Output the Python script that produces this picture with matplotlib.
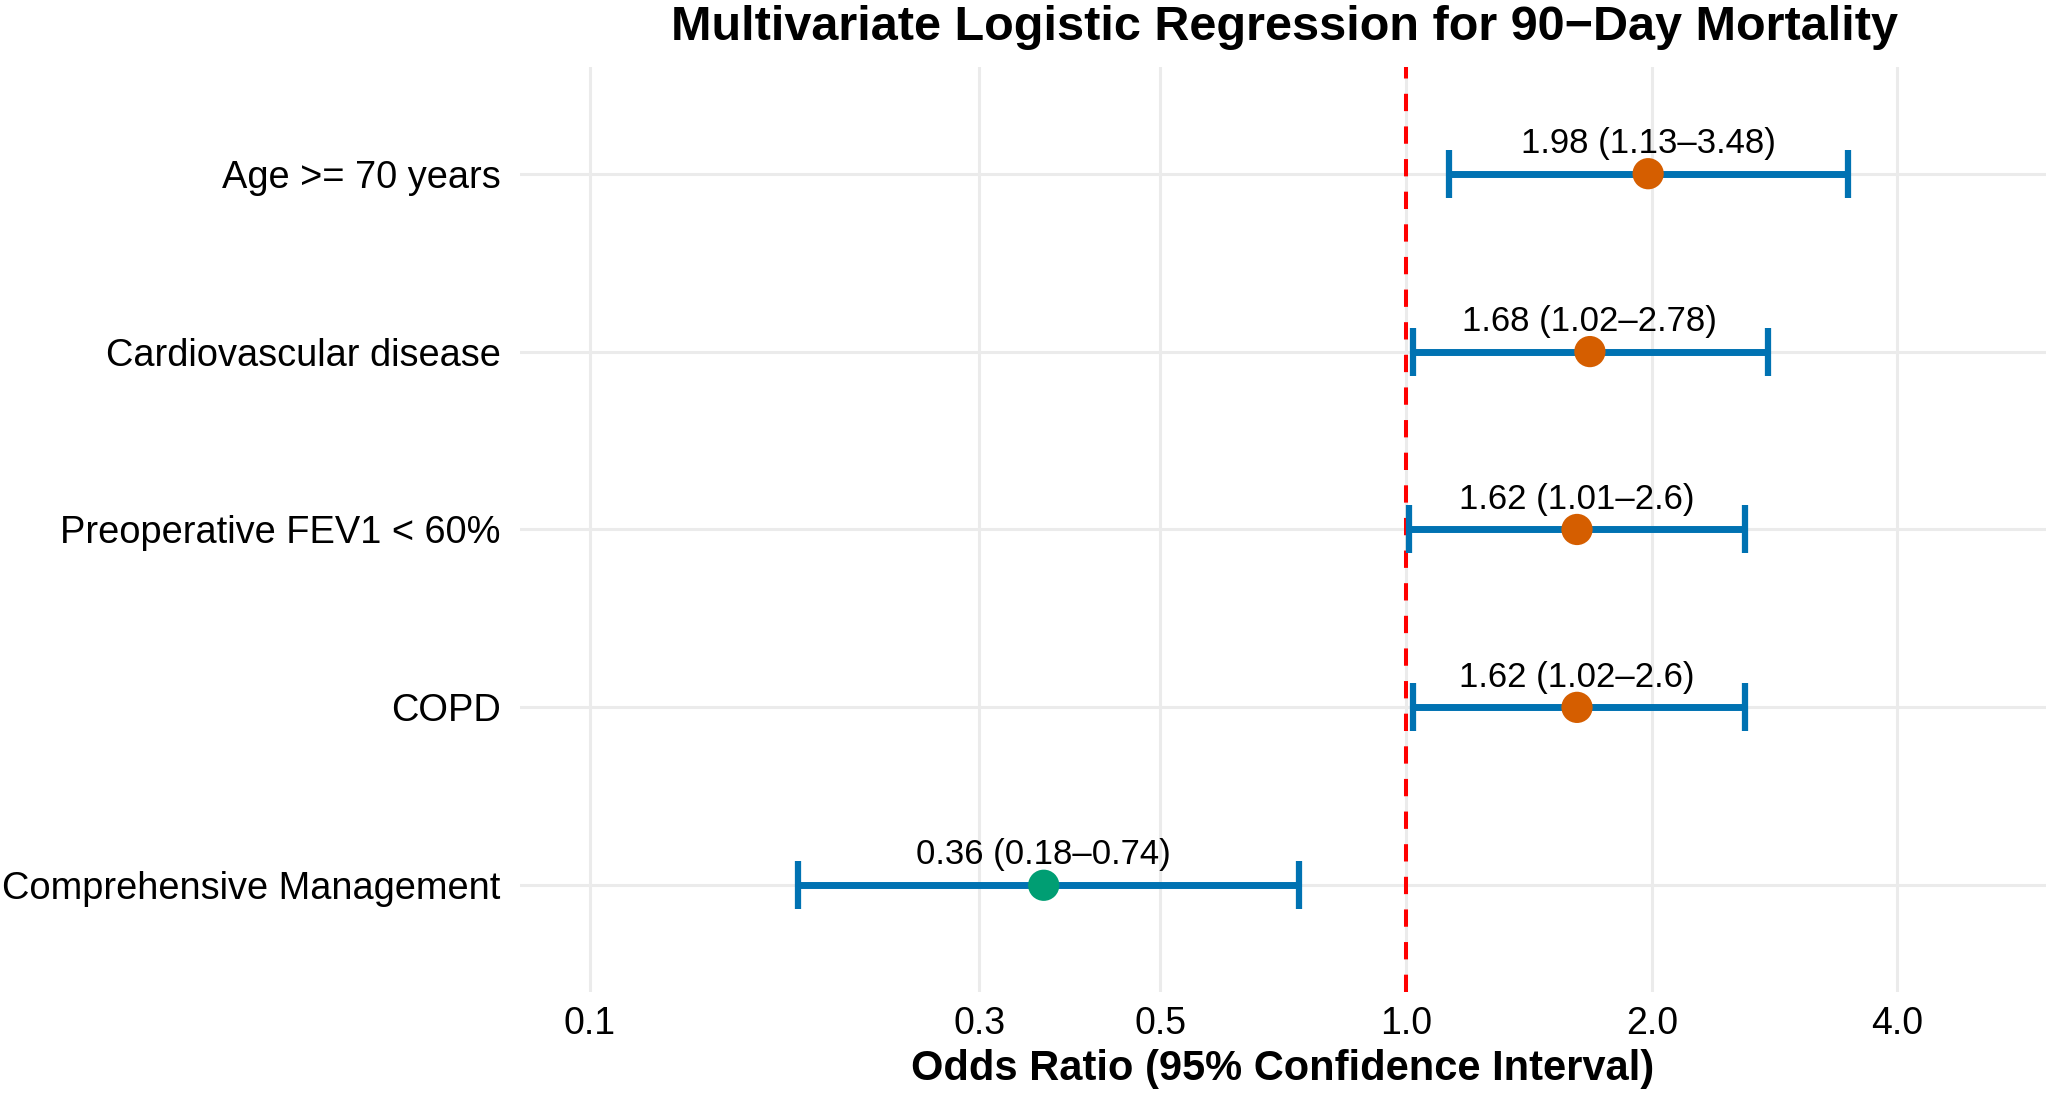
import matplotlib
matplotlib.use("Agg")
import matplotlib.pyplot as plt
import numpy as np

# data
variables = ["Age >= 70 years", "Cardiovascular disease", "Preoperative FEV1 < 60%",
             "COPD", "Comprehensive Management"]
odds_ratio = [1.98, 1.68, 1.62, 1.62, 0.36]
ci_low = [1.13, 1.02, 1.01, 1.02, 0.18]
ci_high = [3.48, 2.78, 2.6, 2.6, 0.74]
x_ticks = [0.1, 0.3, 0.5, 1.0, 2.0, 4.0]
x_ticklabels = ["0.1", "0.3", "0.5", "1.0", "2.0", "4.0"]

plt.rcParams['font.family'] = ['Liberation Sans', 'DejaVu Sans']

fig = plt.figure(figsize=(20.48, 10.96), dpi=100)
ax = fig.add_axes([0.2540, 0.0949, 0.7450, 0.844])

n = len(variables)
y = np.arange(n)[::-1]  # first variable on top

# log-scale limits 0.1..5 with 5% expansion, discrete y expansion 0.6
lo, hi = np.log10(0.1), np.log10(5)
pad = 0.05 * (hi - lo)
ax.set_xscale("log")
ax.set_xlim(10 ** (lo - pad), 10 ** (hi + pad))
ax.set_ylim(-0.6, n - 1 + 0.6)

grid_col = "#EBEBEB"
for t in x_ticks:
    ax.axvline(t, color=grid_col, lw=2.2, zorder=0)
for yy in y:
    ax.axhline(yy, color=grid_col, lw=2.2, zorder=0)

ax.axvline(1.0, color="#FF0000", lw=2.9, dashes=(4.3, 3.8), zorder=1)

err = [np.array(odds_ratio) - np.array(ci_low), np.array(ci_high) - np.array(odds_ratio)]
ax.errorbar(odds_ratio, y, xerr=err, fmt="none", ecolor="#0072B2", elinewidth=5,
            capsize=17, capthick=4.5, zorder=2)

colors = ["#D55E00" if o > 1 else "#009E73" for o in odds_ratio]
ax.scatter(odds_ratio, y, s=22.5 ** 2, c=colors, zorder=3, linewidths=0)

for o, l, h, yy in zip(odds_ratio, ci_low, ci_high, y):
    ax.annotate(f"{o:g} ({l:g}\u2013{h:g})", xy=(o, yy), xytext=(0, 15),
                textcoords="offset points", ha="center", va="baseline",
                fontsize=25, color="black", zorder=4)

ax.set_yticks(y)
ax.set_yticklabels(variables, fontsize=27.4)
ax.set_xticks(x_ticks)
ax.set_xticklabels(x_ticklabels, fontsize=27)
ax.xaxis.set_minor_locator(matplotlib.ticker.NullLocator())
ax.tick_params(axis="both", length=0, colors="black")
ax.tick_params(axis="y", pad=14)
ax.tick_params(axis="x", pad=10)
for s in ax.spines.values():
    s.set_visible(False)

ax.set_xlabel("Odds Ratio (95% Confidence Interval)", fontsize=30, fontweight="bold",
              labelpad=5)
fig.text(0.627, 1 - 40 / 1096, "Multivariate Logistic Regression for 90\u2212Day Mortality",
         ha="center", va="baseline", fontsize=35, fontweight="bold")

fig.savefig("out.png", dpi=100, facecolor="white")
